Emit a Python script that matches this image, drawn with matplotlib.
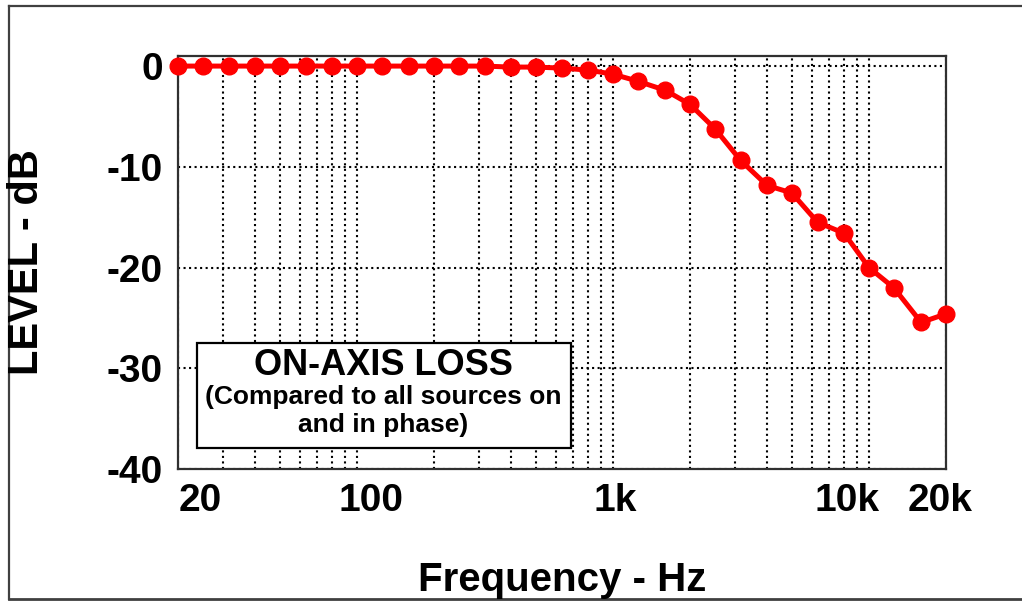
import numpy as np
import matplotlib
matplotlib.use('Agg')
import matplotlib.pyplot as plt
from matplotlib.ticker import FixedLocator, LogLocator, NullFormatter
from matplotlib.transforms import ScaledTranslation
from matplotlib.lines import Line2D
from matplotlib.patches import Rectangle

plt.rcParams['font.family'] = ['Liberation Sans', 'DejaVu Sans']
plt.rcParams['font.weight'] = 'bold'

# 1/3 octave bands, 20 Hz - 20 kHz
freqs = [20, 25, 31.5, 40, 50, 63, 80, 100, 125, 160, 200, 250, 315, 400, 500,
         630, 800, 1000, 1250, 1600, 2000, 2500, 3150, 4000, 5000, 6300, 8000,
         10000, 12500, 16000, 20000]
level = [0, 0, 0, 0, 0, 0, 0, 0, 0, 0, 0, 0, 0, -0.1, -0.1,
         -0.2, -0.4, -0.8, -1.5, -2.4, -3.8, -6.2, -9.35, -11.85, -12.6, -15.5, -16.6,
         -20.0, -22.0, -25.45, -24.6]

xticks = [20, 100, 1000, 10000, 20000]
xticklabels = ['20', '100', '1k', '10k', '20k']
yticks = [0, -10, -20, -30, -40]

fig = plt.figure(figsize=(10.22, 6.01), dpi=100)
ax = fig.add_axes([178/1022, 1-469/601, 768/1022, 413/601])

ax.plot(freqs, level, color='#ff0000', lw=3.6, marker='o', ms=12,
        clip_on=False, zorder=5)

ax.set_xscale('log')
ax.set_xlim(20, 20000)
ax.set_ylim(-40, 1)

ax.xaxis.set_major_locator(FixedLocator(xticks))
ax.set_xticklabels(xticklabels)
ax.xaxis.set_minor_locator(LogLocator(base=10, subs=range(2, 10)))
ax.xaxis.set_minor_formatter(NullFormatter())
ax.set_yticks(yticks)
ax.set_yticklabels([str(v) for v in yticks])

ax.tick_params(axis='both', which='both', length=0)
ax.tick_params(axis='x', pad=10, labelsize=28)
ax.tick_params(axis='y', pad=11, labelsize=28)

ax.grid(True, which='both', axis='x', linestyle=':', color='black', lw=1.5)
ax.grid(True, which='major', axis='y', linestyle=':', color='black', lw=1.5)

for sp in ax.spines.values():
    sp.set_linewidth(1.6)
    sp.set_color('#303030')

# nudge x labels like the original
for tick, dx in zip(ax.xaxis.get_major_ticks(), [16, 10, 2, -16, -4]):
    lab = tick.label1
    lab.set_transform(lab.get_transform() + ScaledTranslation(dx/72, 0, fig.dpi_scale_trans))

# annotation box
ax.add_patch(Rectangle((0.0247, 0.0501), 0.4866, 0.2543, transform=ax.transAxes,
                       facecolor='white', edgecolor='black', lw=1.6, zorder=4))
ax.text(0.2676, 0.2276, 'ON-AXIS LOSS', transform=ax.transAxes, ha='center',
        va='baseline', fontsize=26, fontweight='bold', zorder=6)
ax.text(0.2676, 0.1574, '(Compared to all sources on', transform=ax.transAxes,
        ha='center', va='baseline', fontsize=19, fontweight='bold', zorder=6)
ax.text(0.2676, 0.0903, 'and in phase)', transform=ax.transAxes,
        ha='center', va='baseline', fontsize=19, fontweight='bold', zorder=6)

fig.text(562/1022, 1-591/601, 'Frequency - Hz', ha='center', va='baseline',
         fontsize=29, fontweight='bold')
fig.text(27/1022, 1-262/601, 'LEVEL - dB', ha='center', va='center',
         rotation=90, fontsize=30, fontweight='bold')

# outer frame
fc = '#404040'
fig.add_artist(Line2D([9/1022, 1], [1-6/601, 1-6/601], color=fc, lw=1.6))
fig.add_artist(Line2D([9/1022, 1], [1-599/601, 1-599/601], color=fc, lw=2))
fig.add_artist(Line2D([9/1022, 9/1022], [1-6/601, 1-599/601], color=fc, lw=1.6))

fig.savefig('out.png', dpi=100)
